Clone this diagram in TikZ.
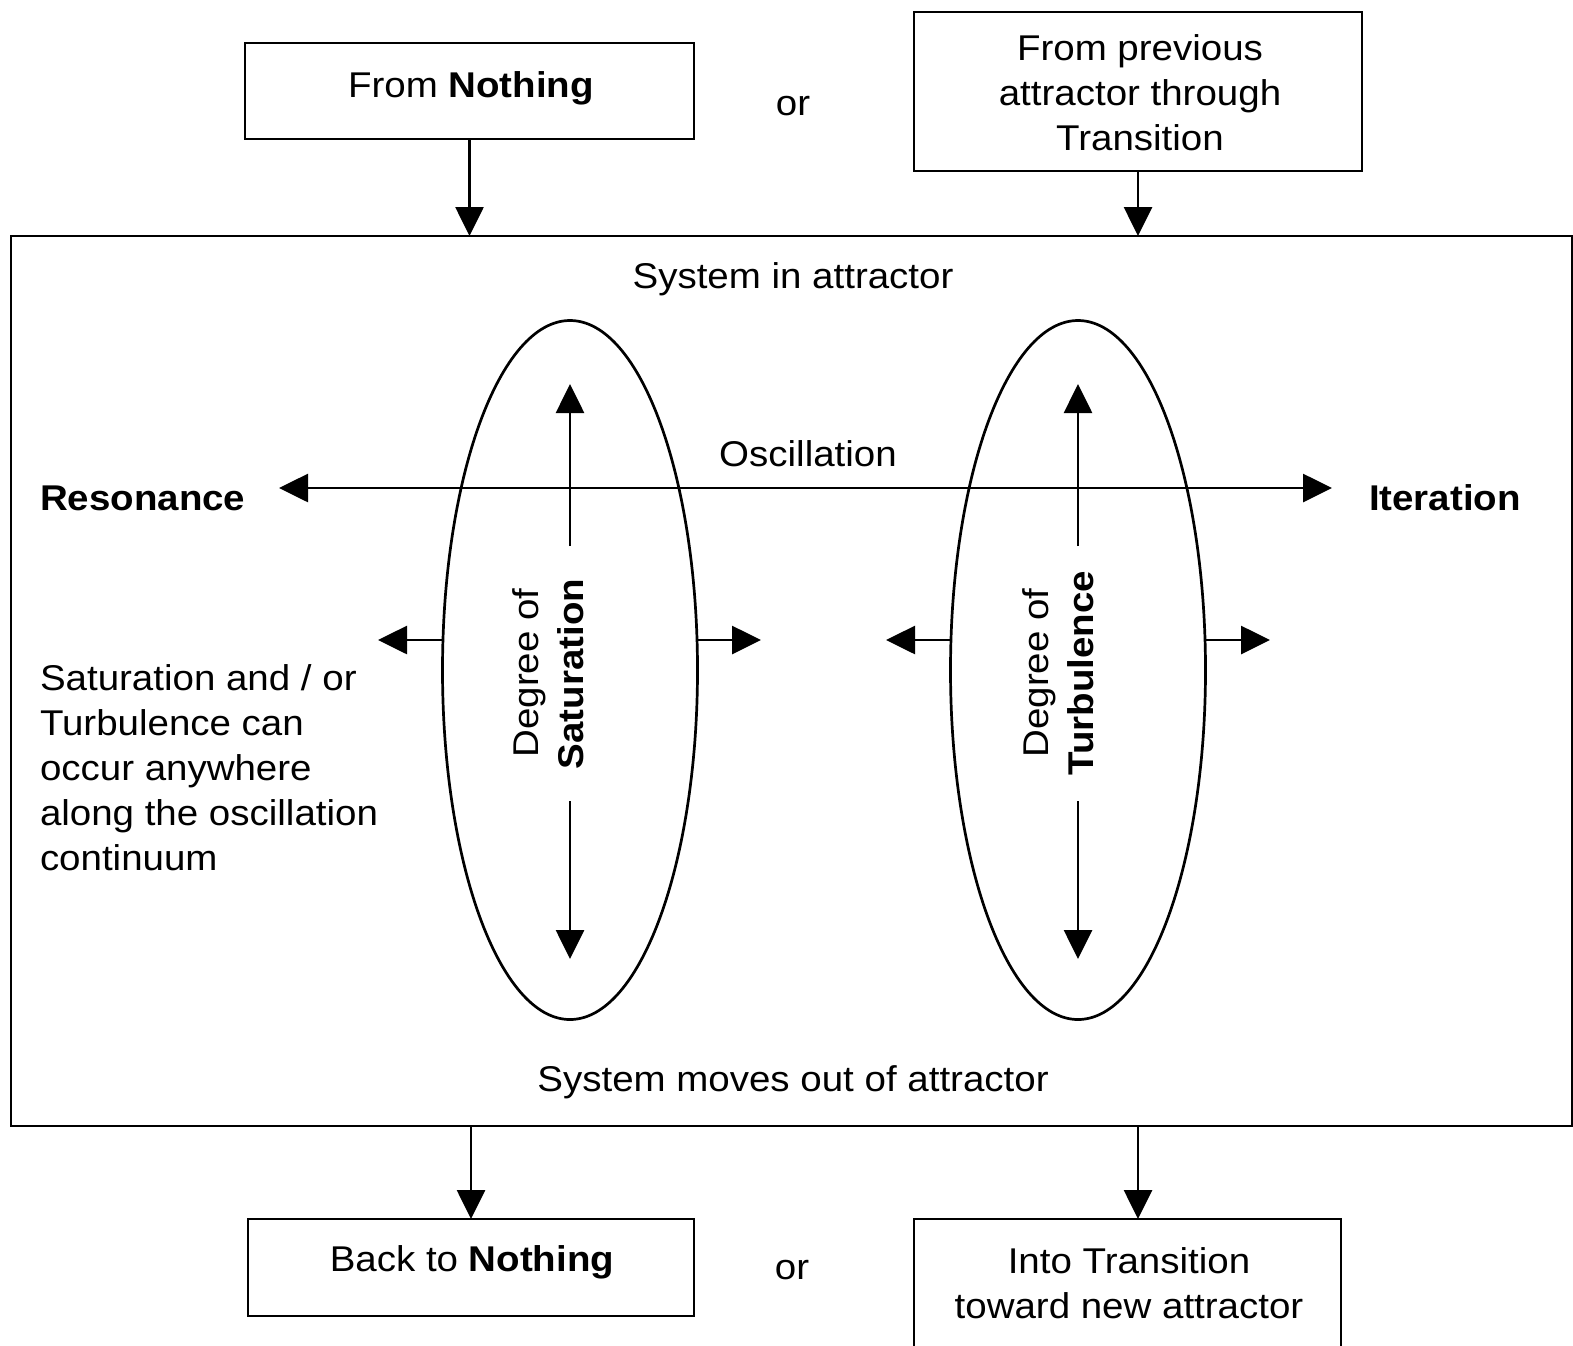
\documentclass[tikz,border=0pt]{standalone}
\usepackage{fontspec}
\setmainfont{Liberation Sans}[FakeStretch=1.075]
\usetikzlibrary{shapes.geometric,arrows.meta}

\begin{document}
\begin{tikzpicture}[x=1pt,y=-1pt,
  line width=2.7pt,
  every node/.style={font=\fontsize{35.8}{45}\selectfont, inner sep=0pt, outer sep=0pt},
  box/.style={draw, line width=2.7pt, rectangle},
  lbl/.style={anchor=base},
  arr/.style={-{Triangle[length=29pt,width=28pt]}},
  arrboth/.style={{Triangle[length=29pt,width=28pt]}-{Triangle[length=29pt,width=28pt]}},
  oval/.style={draw, ellipse, line width=2.7pt, minimum width=255pt, minimum height=699pt}
]
\useasboundingbox (0,0) rectangle (1573,1345);

% boxes
\node[box, minimum width=449pt, minimum height=96pt] (fromnothing) at (469.5,91) {};
\node[box, minimum width=448pt, minimum height=159pt] (fromprev) at (1138,91.5) {};
\node[box, minimum width=1561pt, minimum height=890pt] (main) at (791.5,681) {};
\node[box, minimum width=446pt, minimum height=97pt] (backnothing) at (471,1267.5) {};
\node[box, minimum width=427pt, minimum height=200pt] (into) at (1127.5,1319) {};

% box texts
\node[lbl] (tfromnothing) at (471,97) {From \textbf{Nothing}};
\node[lbl] (or1) at (793,115) {or};
\node[anchor=north, align=center] (tfromprev) at (1140,35) {From previous\\attractor through\\Transition};
\node[lbl] (tbacknothing) at (472,1271) {Back to \textbf{Nothing}};
\node[lbl] (or2) at (792,1279) {or};
\node[anchor=north, align=center] (tinto) at (1129,1248) {Into Transition\\toward new attractor};

% flow arrows
\draw[arr] (fromnothing.south) -- (fromnothing.south |- main.north);
\draw[arr] (fromprev.south) -- (fromprev.south |- main.north);
\draw[arr] (main.south -| backnothing.north) -- (backnothing.north);
\draw[arr] (main.south -| fromprev.south) -- (fromprev.south |- into.north);

% inside the attractor
\node[lbl] (sysin) at (793,288) {System in attractor};
\node[lbl] (sysout) at (793,1091) {System moves out of attractor};
\node[lbl] (osc) at (808,466) {Oscillation};
\node[lbl, anchor=base west] (reson) at (40,510) {\textbf{Resonance}};
\node[lbl, anchor=base west] (iter) at (1369,510) {\textbf{Iteration}};
\node[anchor=north west, align=left] (note) at (40,665)
  {Saturation and / or\\Turbulence can\\occur anywhere\\along the oscillation\\continuum};

% ellipses
\node[oval] (e1) at (570,670) {};
\node[oval] (e2) at (1078,670) {};

% oscillation axis
\coordinate (resL) at (279,488);
\coordinate (iterR) at (1332,488);
\draw[arrboth] (resL) -- (iterR);

% degree labels
\node[lbl, rotate=90] (sat1) at (538,673) {Degree of};
\node[lbl, rotate=90] (sat2) at (583,674) {\textbf{Saturation}};
\node[lbl, rotate=90] (tur1) at (1048,673) {Degree of};
\node[lbl, rotate=90] (tur2) at (1093,673) {\textbf{Turbulence}};

% degree arrows
\coordinate (s1a) at (570,546);
\coordinate (s1t) at (570,384);
\coordinate (s1b) at (570,801);
\coordinate (s1d) at (570,959);
\coordinate (t1a) at (1078,546);
\coordinate (t1t) at (1078,384);
\coordinate (t1b) at (1078,801);
\coordinate (t1d) at (1078,959);
\draw[arr] (s1a) -- (s1t);
\draw[arr] (s1b) -- (s1d);
\draw[arr] (t1a) -- (t1t);
\draw[arr] (t1b) -- (t1d);

% side arrows
\coordinate (e1l) at (378,640);
\coordinate (e1r) at (761,640);
\coordinate (e2l) at (886,640);
\coordinate (e2r) at (1270,640);
\draw[arr] (e1.west |- e1l) -- (e1l);
\draw[arr] (e1.east |- e1r) -- (e1r);
\draw[arr] (e2.west |- e2l) -- (e2l);
\draw[arr] (e2.east |- e2r) -- (e2r);
\end{tikzpicture}
\end{document}
